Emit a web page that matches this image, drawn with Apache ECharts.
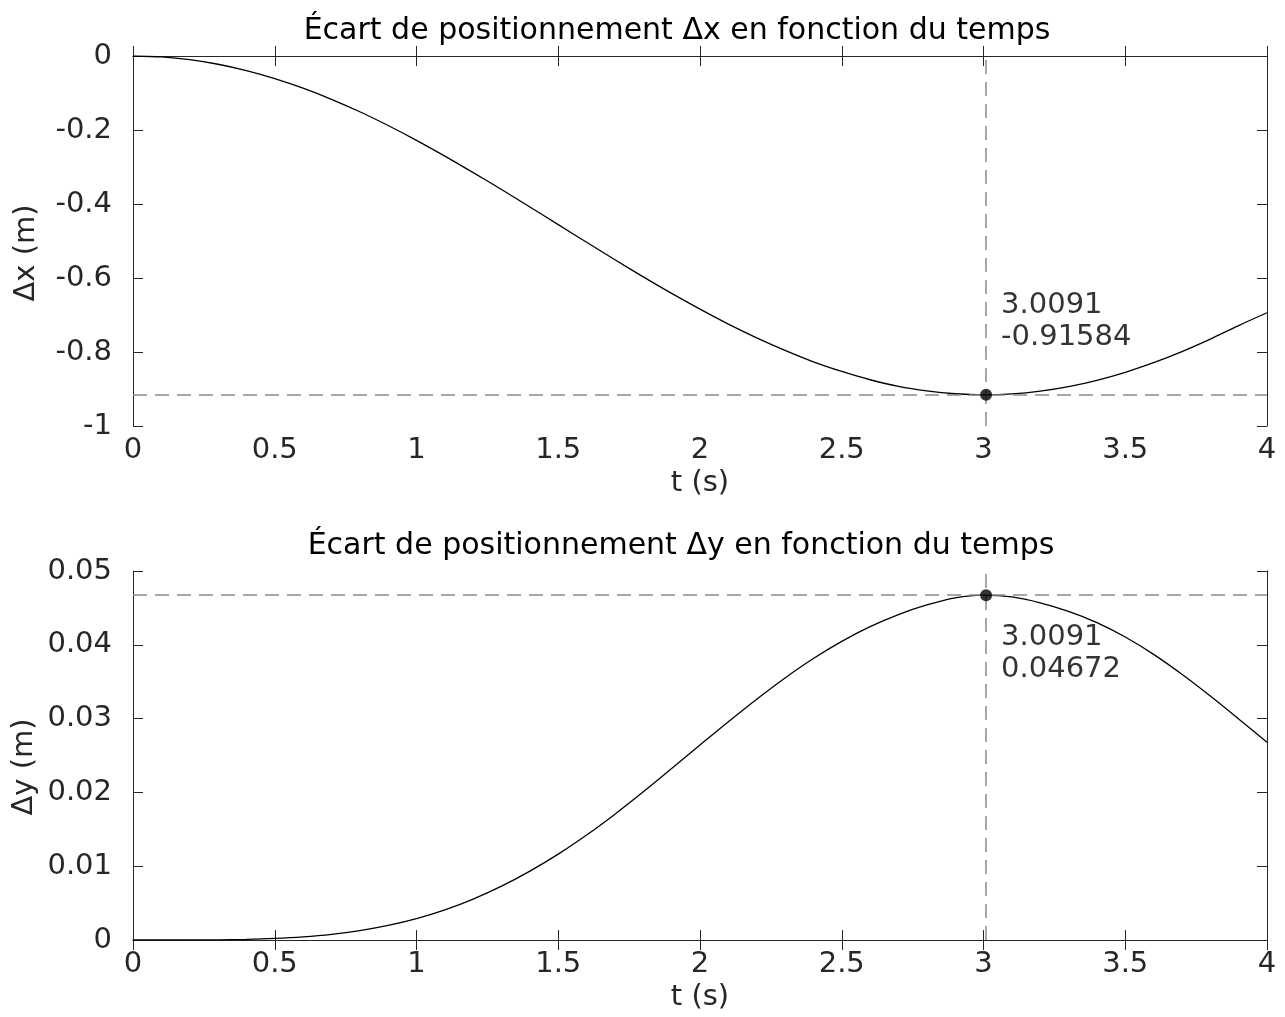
<!DOCTYPE html>
<html>
<head>
<meta charset="utf-8">
<script src="https://cdn.jsdelivr.net/npm/echarts@6/dist/echarts.min.js"></script>
<style>html,body{margin:0;padding:0;background:#fff;}#c{width:1285px;height:1017px;}</style>
</head>
<body>
<div id="c"></div>
<script>
// time samples (s)
const tValues = [0.0,0.1,0.2,0.3,0.4,0.5,0.6,0.7,0.8,0.9,1.0,1.1,1.2,1.3,1.4,1.5,1.6,1.7,1.8,1.9,2.0,
  2.1,2.2,2.3,2.4,2.5,2.6,2.7,2.8,2.9,3.0,3.1,3.2,3.3,3.4,3.5,3.6,3.7,3.8,3.9,4.0];
// Δx (m)
const dxValues = [0,-0.0025,-0.0099,-0.0223,-0.0394,-0.0610,-0.0870,-0.1170,-0.1507,-0.1879,-0.2279,
  -0.2706,-0.3152,-0.3608,-0.4081,-0.4558,-0.5035,-0.5506,-0.5970,-0.6417,-0.6842,
  -0.7246,-0.7617,-0.7956,-0.8265,-0.8525,-0.8750,-0.8929,-0.9050,-0.9128,-0.9158,
  -0.9133,-0.9058,-0.8935,-0.8764,-0.8548,-0.8288,-0.7988,-0.7651,-0.7285,-0.6940];
// Δy (m)
const dyValues = [0,0,0.00001,0.00003,0.00009,0.00021,0.00042,0.00076,0.00127,0.00197,0.00289,
  0.00408,0.00555,0.00729,0.00933,0.01163,0.01422,0.01705,0.02008,0.02323,0.02642,
  0.02958,0.03263,0.03551,0.03814,0.04046,0.04246,0.04410,0.04540,0.04636,0.04672,
  0.04648,0.04568,0.04452,0.04300,0.04105,0.03870,0.03600,0.03305,0.02995,0.02680];
// annotated extrema
const peakT = 3.0091;
const peakDx = -0.91584;
const peakDy = 0.04672;
// titles / axis names
const titles = ['Écart de positionnement Δx en fonction du temps', 'Écart de positionnement Δy en fonction du temps'];
const yNames = ['Δx (m)', 'Δy (m)'];
const xName = 't (s)';

const FONT = 'DejaVu Sans';
const AX = '#262626';
const chart = echarts.init(document.getElementById('c'), null, {renderer: 'canvas'});

const grids = [
  {left: 133, right: 18, top: 56, height: 370},
  {left: 133, right: 18, top: 571, height: 369}
];
function xAxes(g) {
  const base = {type: 'value', gridIndex: g, min: 0, max: 4, interval: 0.5,
    splitLine: {show: false},
    axisLine: {show: true, lineStyle: {color: AX, width: 1}},
    axisTick: {show: true, inside: true, length: 10, lineStyle: {color: AX}}};
  return [
    Object.assign({}, base, {position: 'bottom',
      axisLabel: {show: true, margin: 10, fontFamily: FONT, fontSize: 29, color: AX},
      name: xName, nameLocation: 'middle', nameGap: 43,
      nameTextStyle: {fontFamily: FONT, fontSize: 29, color: AX}}),
    Object.assign({}, base, {position: 'top', axisLabel: {show: false}})
  ];
}
function yAxes(g, min, max, interval) {
  const base = {type: 'value', gridIndex: g, min: min, max: max, interval: interval,
    splitLine: {show: false},
    axisLine: {show: true, onZero: false, lineStyle: {color: AX, width: 1}},
    axisTick: {show: true, inside: true, length: 10, lineStyle: {color: AX}}};
  return [
    Object.assign({}, base, {position: 'left',
      axisLabel: {show: true, margin: 21, fontFamily: FONT, fontSize: 29, color: AX}}),
    Object.assign({}, base, {position: 'right', axisLabel: {show: false}})
  ];
}
function pairs(vals) { return tValues.map((t, i) => [t, vals[i]]); }
function peakSeries(xi, yi, val, dy) {
  return {
    type: 'scatter', xAxisIndex: xi, yAxisIndex: yi, z: 5,
    data: [[peakT, val]], symbol: 'circle', symbolSize: 12,
    itemStyle: {color: '#000'},
    label: {show: true, position: 'right', distance: 5, offset: [4, dy],
      formatter: () => peakT + '\n' + val,
      fontFamily: FONT, fontSize: 29, lineHeight: 32, color: '#000', align: 'left'},
    markLine: {silent: true, symbol: 'none', precision: 6, label: {show: false},
      lineStyle: {color: '#8a8a8a', width: 1.5, type: [14, 8]},
      data: [{xAxis: peakT}, {yAxis: val}]}
  };
}

chart.setOption({
  animation: false,
  backgroundColor: '#fff',
  title: [
    {text: titles[0], left: 672, top: 11, textAlign: 'center',
      textStyle: {fontFamily: FONT, fontSize: 30, fontWeight: 'normal', color: '#000'}},
    {text: titles[1], left: 676, top: 526, textAlign: 'center',
      textStyle: {fontFamily: FONT, fontSize: 30, fontWeight: 'normal', color: '#000'}}
  ],
  grid: grids,
  xAxis: [].concat(xAxes(0), xAxes(1)),
  yAxis: [].concat(yAxes(0, -1, 0, 0.2), yAxes(1, 0, 0.05, 0.01)),
  graphic: [
    {type: 'text', x: 26, y: 253, rotation: Math.PI / 2,
      style: {text: yNames[0], font: '29px "' + FONT + '"', fill: AX, textAlign: 'center', textVerticalAlign: 'middle'}},
    {type: 'text', x: 24, y: 767, rotation: Math.PI / 2,
      style: {text: yNames[1], font: '29px "' + FONT + '"', fill: AX, textAlign: 'center', textVerticalAlign: 'middle'}}
  ],
  series: [
    {type: 'line', xAxisIndex: 0, yAxisIndex: 0, data: pairs(dxValues), smooth: 0.3,
      showSymbol: false, lineStyle: {color: '#000', width: 1.3}, z: 3},
    peakSeries(0, 0, peakDx, -73),
    {type: 'line', xAxisIndex: 2, yAxisIndex: 2, data: pairs(dyValues), smooth: 0.3,
      showSymbol: false, lineStyle: {color: '#000', width: 1.3}, z: 3},
    peakSeries(2, 2, peakDy, 58)
  ]
});
</script>
</body>
</html>
